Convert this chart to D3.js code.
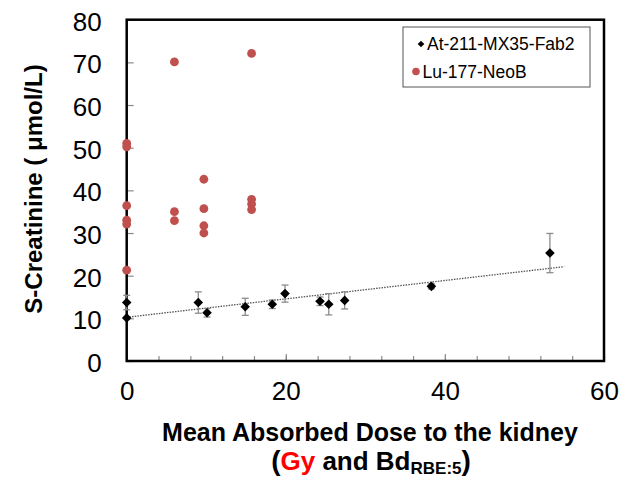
<!DOCTYPE html>
<html>
<head>
<meta charset="utf-8">
<script src="https://cdn.jsdelivr.net/npm/d3@7"></script>
<style>
body { margin: 0; background: #fff; }
svg text { font-family: "Liberation Sans", Arial, sans-serif; }
</style>
</head>
<body>
<div class="chart1"></div>
<script>
// At-211-MX35-Fab2 (black diamonds, with error bars)
var atDose = [0, 0, 9.0, 10.1, 14.9, 18.3, 19.9, 24.3, 25.4, 27.4, 38.3, 53.2];
var atCrea = [13.7, 10.1, 13.7, 11.3, 12.7, 13.3, 15.8, 14.0, 13.3, 14.2, 17.5, 25.3];
var atErr  = [1.7, 0, 2.5, 1.0, 2.0, 1.0, 2.0, 1.0, 2.5, 2.0, 0.6, 4.6];
// Lu-177-NeoB (red circles)
var luDose = [0, 0, 0, 0, 0, 0, 6.0, 6.0, 6.0, 9.7, 9.7, 9.7, 9.7, 15.7, 15.7, 15.7, 15.7];
var luCrea = [51.0, 50.2, 36.4, 33.0, 32.1, 21.3, 70.1, 35.0, 32.9, 42.6, 35.7, 31.7, 30.0, 72.1, 37.9, 36.8, 35.5];
var seriesNames = ["At-211-MX35-Fab2", "Lu-177-NeoB"];
var xTicks = [0, 20, 40, 60];
var yTicks = [0, 10, 20, 30, 40, 50, 60, 70, 80];
var trendEnd = 55; // trendline drawn from 0 to here

var W = 634, H = 480;
var margin = {top: 19.7, right: 30, bottom: 119, left: 126.7};
var width = 604 - margin.left,
	height = 361 - margin.top;

var x = d3.scaleLinear().domain([0, 60]).range([0, width]);
var y = d3.scaleLinear().domain([0, 80]).range([height, 0]);

var svg = d3.select(".chart1")
	.append("svg")
	.attr("width", W)
	.attr("height", H)
	.append("g")
	.attr("transform", "translate(" + margin.left + "," + margin.top + ")");

// ticks (inside, grey)
svg.append("g")
	.call(d3.axisBottom(x).tickValues(d3.range(0, 61, 4)).tickSize(-5).tickFormat(""))
	.attr("transform", "translate(0," + height + ")")
	.call(function(g){ g.select(".domain").remove(); g.selectAll("line").attr("stroke", "#8c8c8c").attr("stroke-width", 1.2); });
svg.append("g")
	.call(d3.axisBottom(x).tickValues(xTicks).tickSize(-7).tickPadding(21))
	.attr("transform", "translate(0," + height + ")")
	.call(function(g){
		g.select(".domain").remove();
		g.selectAll("line").attr("stroke", "#8c8c8c").attr("stroke-width", 1.2);
		g.selectAll("text").attr("font-size", "26px").attr("fill", "#000").attr("font-family", "Liberation Sans, Arial");
	});
svg.append("g")
	.call(d3.axisLeft(y).tickValues(yTicks).tickSize(-7).tickPadding(25))
	.call(function(g){
		g.select(".domain").remove();
		g.selectAll("line").attr("stroke", "#8c8c8c").attr("stroke-width", 1.2);
		g.selectAll("text").attr("font-size", "26px").attr("fill", "#000").attr("dy", "0.4em").attr("font-family", "Liberation Sans, Arial");
	});

// frame
svg.append("rect")
	.attr("width", width)
	.attr("height", height)
	.attr("fill", "none")
	.attr("stroke", "#000")
	.attr("stroke-width", 2.5);

// linear trendline through the At-211 points
var mx = d3.mean(atDose), my = d3.mean(atCrea);
var sxy = d3.sum(atDose, function(d, i){ return (d - mx) * (atCrea[i] - my); });
var sxx = d3.sum(atDose, function(d){ return (d - mx) * (d - mx); });
var slope = sxy / sxx, icpt = my - slope * mx;
svg.append("line")
	.attr("x1", x(0)).attr("y1", y(icpt))
	.attr("x2", x(trendEnd)).attr("y2", y(icpt + slope * trendEnd))
	.attr("stroke", "#555")
	.attr("stroke-width", 1.3)
	.attr("stroke-dasharray", "1.5,1.2");

// red circles
svg.selectAll(".lu")
	.data(luDose)
	.enter()
	.append("circle")
	.attr("class", "lu")
	.attr("cx", function(d){ return x(d); })
	.attr("cy", function(d, i){ return y(luCrea[i]); })
	.attr("r", 4.4)
	.attr("fill", "#c0504d");

// error bars
var eb = svg.selectAll(".eb")
	.data(atDose.map(function(d, i){ return {x: d, y: atCrea[i], e: atErr[i]}; }).filter(function(d){ return d.e > 0; }))
	.enter()
	.append("g")
	.attr("class", "eb")
	.attr("stroke", "#8c8c8c")
	.attr("stroke-width", 1.3);
eb.append("line")
	.attr("x1", function(d){ return x(d.x); }).attr("x2", function(d){ return x(d.x); })
	.attr("y1", function(d){ return y(d.y - d.e); }).attr("y2", function(d){ return y(d.y + d.e); });
eb.append("line")
	.attr("x1", function(d){ return x(d.x) - 3.5; }).attr("x2", function(d){ return x(d.x) + 3.5; })
	.attr("y1", function(d){ return y(d.y - d.e); }).attr("y2", function(d){ return y(d.y - d.e); });
eb.append("line")
	.attr("x1", function(d){ return x(d.x) - 3.5; }).attr("x2", function(d){ return x(d.x) + 3.5; })
	.attr("y1", function(d){ return y(d.y + d.e); }).attr("y2", function(d){ return y(d.y + d.e); });

// diamonds
var diamond = d3.symbol().type(d3.symbolSquare).size(46);
svg.selectAll(".at")
	.data(atDose)
	.enter()
	.append("path")
	.attr("class", "at")
	.attr("d", diamond)
	.attr("transform", function(d, i){ return "translate(" + x(d) + "," + y(atCrea[i]) + ") rotate(45)"; })
	.attr("fill", "#000");

// legend
var lg = svg.append("g").attr("transform", "translate(" + (403 - margin.left) + "," + (27 - margin.top) + ")");
lg.append("rect")
	.attr("width", 187).attr("height", 60)
	.attr("fill", "#fff").attr("stroke", "#555").attr("stroke-width", 1);
lg.append("path")
	.attr("d", d3.symbol().type(d3.symbolSquare).size(22))
	.attr("transform", "translate(18,17) rotate(45)");
lg.append("circle").attr("cx", 13).attr("cy", 44.5).attr("r", 3.8).attr("fill", "#c0504d");
lg.selectAll(".lgt")
	.data(seriesNames)
	.enter()
	.append("text")
	.attr("class", "lgt")
	.attr("x", function(d, i){ return i == 0 ? 24 : 19.5; })
	.attr("y", function(d, i){ return 23 + i * 27.5; })
	.attr("font-size", "17.5px")
	.text(function(d){ return d; });

// y axis title
svg.append("text")
	.attr("transform", "translate(" + (42 - margin.left) + "," + (189 - margin.top) + ") rotate(-90)")
	.attr("text-anchor", "middle")
	.attr("font-size", "24px")
	.attr("font-weight", "bold")
	.text("S-Creatinine ( \u03bcmol/L)");

// x axis title
svg.append("text")
	.attr("x", 370 - margin.left)
	.attr("y", 441 - margin.top)
	.attr("text-anchor", "middle")
	.attr("font-size", "25px")
	.attr("font-weight", "bold")
	.text("Mean Absorbed  Dose to the kidney");
var t2 = svg.append("text")
	.attr("x", 371 - margin.left)
	.attr("y", 470 - margin.top)
	.attr("text-anchor", "middle")
	.attr("font-size", "26px")
	.attr("font-weight", "bold");
t2.append("tspan").attr("font-size", "28px").text("(");
t2.append("tspan").attr("fill", "#ff0000").text("Gy");
t2.append("tspan").text(" and Bd");
t2.append("tspan").attr("font-size", "17px").attr("dy", 4).text("RBE:5");
t2.append("tspan").attr("font-size", "28px").attr("dy", -4).text(")");
</script>
</body>
</html>
